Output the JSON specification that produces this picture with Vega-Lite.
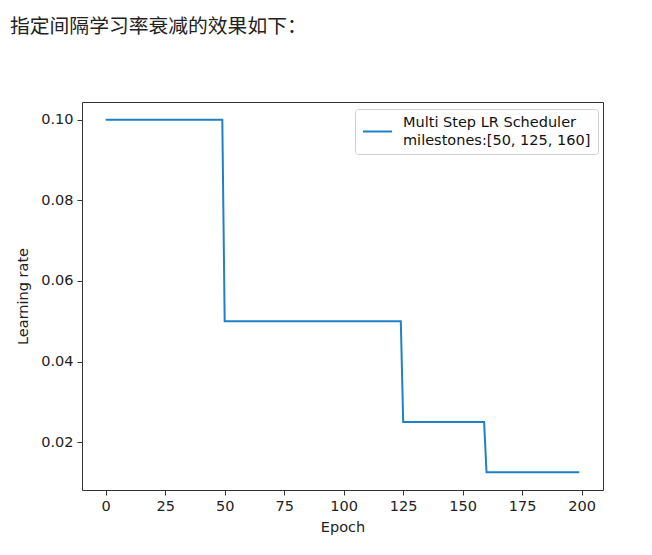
{
  "$schema": "https://vega.github.io/schema/vega-lite/v6.json",
  "width": 521,
  "height": 388,
  "autosize": {"type": "none"},
  "padding": {"left": 82, "top": 102, "right": 49, "bottom": 65},
  "background": "white",
  "title": {
    "text": "指定间隔学习率衰减的效果如下：",
    "anchor": "start",
    "frame": "group",
    "dx": -72,
    "offset": 65,
    "font": "Noto Sans CJK SC",
    "fontSize": 19.8,
    "fontWeight": "normal",
    "color": "#222222"
  },
  "data": {
    "values": [
      {"epoch": 0, "lr": 0.1, "series": "s"},
      {"epoch": 49, "lr": 0.1, "series": "s"},
      {"epoch": 50, "lr": 0.05, "series": "s"},
      {"epoch": 124, "lr": 0.05, "series": "s"},
      {"epoch": 125, "lr": 0.025, "series": "s"},
      {"epoch": 159, "lr": 0.025, "series": "s"},
      {"epoch": 160, "lr": 0.0125, "series": "s"},
      {"epoch": 199, "lr": 0.0125, "series": "s"}
    ]
  },
  "mark": {"type": "line", "strokeWidth": 2},
  "encoding": {
    "x": {
      "field": "epoch",
      "type": "quantitative",
      "scale": {"domain": [-9.95, 208.95], "nice": false, "zero": false},
      "axis": {
        "values": [0, 25, 50, 75, 100, 125, 150, 175, 200],
        "title": "Epoch",
        "titlePadding": 8
      }
    },
    "y": {
      "field": "lr",
      "type": "quantitative",
      "scale": {"domain": [0.008125, 0.104375], "nice": false, "zero": false},
      "axis": {
        "values": [0.02, 0.04, 0.06, 0.08, 0.1],
        "format": ".2f",
        "title": "Learning rate",
        "titlePadding": 10
      }
    },
    "color": {
      "field": "series",
      "type": "nominal",
      "scale": {"range": ["#1f80c8"]},
      "legend": {
        "title": null,
        "orient": "none",
        "legendX": 273,
        "legendY": 7,
        "labelExpr": "['Multi Step LR Scheduler', 'milestones:[50, 125, 160]']",
        "labelFont": "DejaVu Sans",
        "labelFontSize": 14.5,
        "labelColor": "#111111",
        "labelOffset": 10,
        "labelLimit": 300,
        "labelBaseline": "middle",
        "symbolType": "stroke",
        "symbolSize": 841,
        "symbolStrokeWidth": 2,
        "strokeColor": "#d0d0d0",
        "fillColor": "white",
        "cornerRadius": 3,
        "padding": 7,
        "encode": {
          "labels": {
            "update": {
              "lineHeight": {"value": 18},
              "dy": {"value": -9}
            }
          }
        }
      }
    }
  },
  "config": {
    "view": {"stroke": "#333333", "strokeWidth": 1},
    "axis": {
      "grid": false,
      "domain": false,
      "tickColor": "#333333",
      "tickSize": 5,
      "labelPadding": 4,
      "labelFont": "DejaVu Sans",
      "labelFontSize": 14.5,
      "labelColor": "#222222",
      "titleFont": "DejaVu Sans",
      "titleFontSize": 14.5,
      "titleFontWeight": "normal",
      "titleColor": "#222222"
    }
  }
}
